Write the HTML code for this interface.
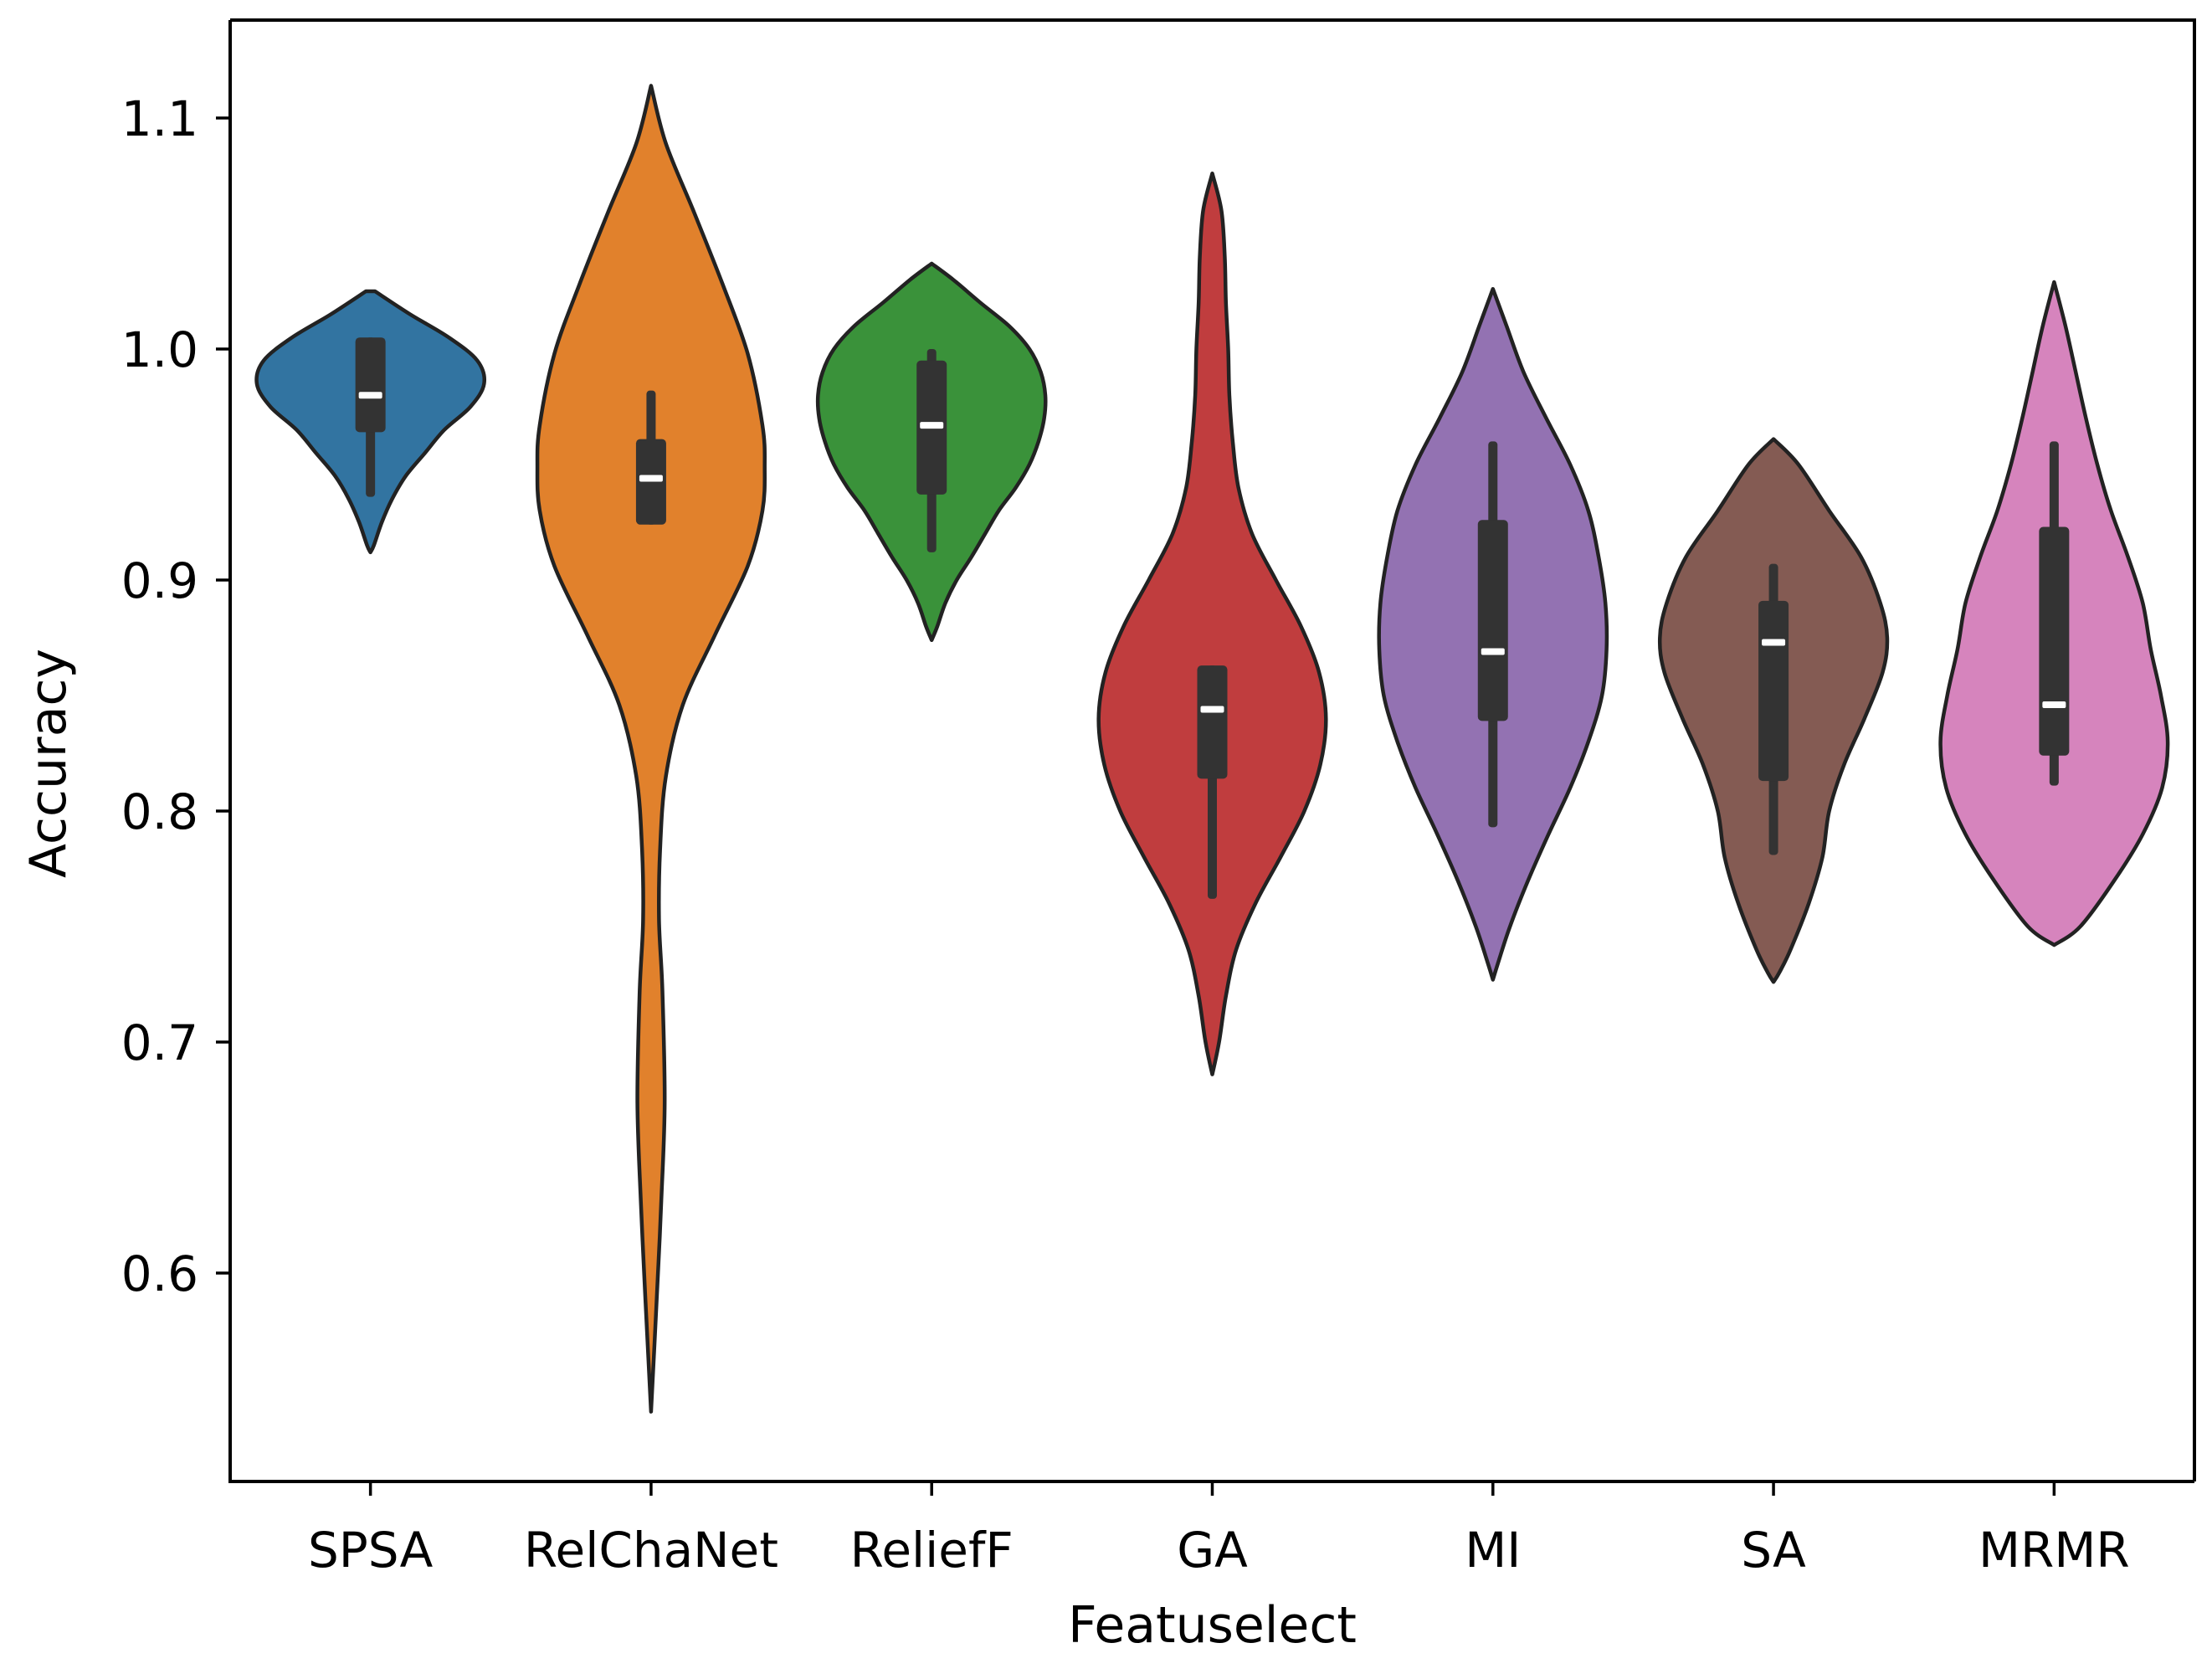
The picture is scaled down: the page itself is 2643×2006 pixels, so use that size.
<!DOCTYPE html>
<html><head><meta charset="utf-8"><style>
html,body{margin:0;padding:0;background:#fff}
svg{display:block}
text{font-family:"DejaVu Sans","Liberation Sans",sans-serif;fill:#000}
</style></head><body>
<svg id="chart" width="2643" height="2006" viewBox="0 0 2643 2006" xmlns="http://www.w3.org/2000/svg">
<rect width="2643" height="2006" fill="#fff"/>
<g id="violins"></g>
<g id="axes"></g>
</svg>
<script>
const categories = ["SPSA","RelChaNet","ReliefF","GA","MI","SA","MRMR"];
const colors = ["#3274a1","#e1812c","#3a923a","#c03d3e","#9372b2","#845b53","#d684bd"];
const yTicks = [0.6,0.7,0.8,0.9,1.0,1.1];
const yTickLabels = ["0.6","0.7","0.8","0.9","1.0","1.1"];
// density profiles: accuracy values and relative half-widths (1 = max)
const spsaV = [1.025,1.015,1.005,0.995,0.985,0.975,0.965,0.955,0.945,0.935,0.925,0.915,0.912];
const spsaD = [0.04,0.35,0.69,0.94,1.0,0.88,0.65,0.48,0.31,0.19,0.10,0.03,0];
const relV = [1.114,1.089,1.059,1.028,0.998,0.967,0.949,0.930,0.906,0.876,0.846,0.815,0.784,0.753,0.722,0.674,0.631,0.589,0.54];
const relD = [0,0.13,0.38,0.63,0.85,0.98,1.0,0.98,0.85,0.56,0.28,0.13,0.08,0.07,0.1,0.12,0.09,0.05,0];
const relfV = [1.037,1.03,1.02,1.01,1.0,0.99,0.98,0.97,0.96,0.95,0.94,0.93,0.92,0.91,0.9,0.89,0.88,0.874];
const relfD = [0,0.19,0.43,0.68,0.86,0.96,1.0,0.99,0.94,0.86,0.74,0.59,0.47,0.35,0.22,0.12,0.05,0];
const gaV = [1.076,1.06,1.04,1.02,1.0,0.98,0.96,0.94,0.92,0.9,0.88,0.86,0.84,0.82,0.8,0.78,0.76,0.74,0.72,0.70,0.686];
const gaD = [0,0.08,0.11,0.12,0.14,0.15,0.18,0.23,0.35,0.56,0.78,0.94,1.0,0.95,0.81,0.6,0.38,0.21,0.12,0.06,0];
const miV = [1.026,1.01,0.99,0.97,0.95,0.93,0.91,0.89,0.87,0.85,0.83,0.81,0.79,0.77,0.75,0.735,0.727];
const miD = [0,0.12,0.27,0.47,0.68,0.84,0.93,0.99,1.0,0.96,0.84,0.68,0.49,0.31,0.15,0.05,0];
const saV = [0.961,0.95,0.93,0.91,0.89,0.875,0.86,0.84,0.82,0.80,0.78,0.76,0.74,0.73,0.726];
const saD = [0,0.22,0.49,0.77,0.94,1.0,0.96,0.8,0.62,0.49,0.43,0.31,0.15,0.05,0];
const mrV = [1.029,1.01,0.99,0.97,0.95,0.93,0.91,0.89,0.87,0.85,0.83,0.81,0.79,0.77,0.75,0.742];
const mrD = [0,0.1,0.19,0.28,0.38,0.5,0.65,0.78,0.85,0.94,1.0,0.95,0.78,0.53,0.23,0];
const profileV = [spsaV,relV,relfV,gaV,miV,saV,mrV];
const profileD = [spsaD,relD,relfD,gaD,miD,saD,mrD];
// box stats
const q1 = [0.964,0.924,0.937,0.814,0.839,0.813,0.824];
const q3 = [1.005,0.961,0.995,0.863,0.926,0.891,0.923];
const whiskLo = [0.936,0.924,0.912,0.762,0.793,0.781,0.811];
const whiskHi = [1.005,0.982,1.0,0.863,0.960,0.907,0.960];
const medians = [0.980,0.944,0.967,0.844,0.869,0.873,0.846];

const NS="http://www.w3.org/2000/svg";
const L=275,R=2622,T=24,B=1770;
const step=(R-L)/7;
function xS(i){return L+step*(i+0.5);}
function yS(v){return 1521-(v-0.6)*2760;}
const maxHW=step*0.405;
function mk(tag,attrs,parent){const e=document.createElementNS(NS,tag);for(const k in attrs)e.setAttribute(k,attrs[k]);parent.appendChild(e);return e;}
function smooth(pts){
  let d="M"+pts[0][0].toFixed(1)+","+pts[0][1].toFixed(1);
  const n=pts.length;
  for(let i=0;i<n-1;i++){
    const p0=pts[Math.max(i-1,0)],p1=pts[i],p2=pts[i+1],p3=pts[Math.min(i+2,n-1)];
    const c1=[p1[0]+(p2[0]-p0[0])/6,p1[1]+(p2[1]-p0[1])/6];
    const c2=[p2[0]-(p3[0]-p1[0])/6,p2[1]-(p3[1]-p1[1])/6];
    d+="C"+c1[0].toFixed(1)+","+c1[1].toFixed(1)+" "+c2[0].toFixed(1)+","+c2[1].toFixed(1)+" "+p2[0].toFixed(1)+","+p2[1].toFixed(1);
  }
  return d;
}
const vg=document.getElementById('violins');
categories.forEach((c,i)=>{
  const cx=xS(i),V=profileV[i],D=profileD[i];
  const right=V.map((v,k)=>[cx+D[k]*maxHW,yS(v)]);
  const left=V.map((v,k)=>[cx-D[k]*maxHW,yS(v)]).reverse();
  const d=smooth(right)+" L"+left[0][0].toFixed(1)+","+left[0][1].toFixed(1)+smooth(left).replace(/^M[^C]*/,"")+"Z";
  const g=mk('g',{},vg);
  
  
  const p=mk('path',{d:d,fill:colors[i],stroke:"#222",'stroke-width':4.5,'stroke-linejoin':'round'},g);
  
  
  const w=mk('rect',{x:cx-5.5,y:yS(whiskHi[i]),width:11,height:yS(whiskLo[i])-yS(whiskHi[i]),fill:"#333",rx:4},g);
  
  
  const b=mk('rect',{x:cx-18,y:yS(q3[i]),width:36,height:yS(q1[i])-yS(q3[i]),fill:"#333",rx:5},g);
  
  
  const m=mk('rect',{x:cx-14,y:yS(medians[i])-4,width:28,height:8,fill:"#fff",rx:2},g);
  
  
});
const ag=document.getElementById('axes');
const frame=mk('path',{d:`M${L},${T}V${B}H${R}`,fill:"none",stroke:"#000",'stroke-width':4},ag);


const fr2=mk('path',{d:`M${L},${T}H${R}V${B}`,fill:"none",stroke:"#000",'stroke-width':4},ag);


yTicks.forEach((t,k)=>{
  const y=yS(t);
  const l=mk('line',{x1:L-17,x2:L,y1:y,y2:y,stroke:"#000",'stroke-width':3.5},ag);
  
  
  const tx=mk('text',{x:L-38,y:y+21,'text-anchor':'end','font-size':58},ag);
  tx.textContent=yTickLabels[k];
  
  
});
categories.forEach((c,i)=>{
  const x=xS(i);
  const l=mk('line',{x1:x,x2:x,y1:B,y2:B+17,stroke:"#000",'stroke-width':3.5},ag);
  
  
  const tx=mk('text',{x:x,y:B+102,'text-anchor':'middle','font-size':58},ag);
  tx.textContent=c;
  
  
});
const xl=mk('text',{x:(L+R)/2,y:1962,'text-anchor':'middle','font-size':60},ag);
xl.textContent="Featuselect";


const yl=mk('text',{x:0,y:0,'text-anchor':'middle','font-size':60,transform:`translate(78,${(T+B)/2+15}) rotate(-90)`},ag);
yl.textContent="Accuracy";


</script>
</body></html>
